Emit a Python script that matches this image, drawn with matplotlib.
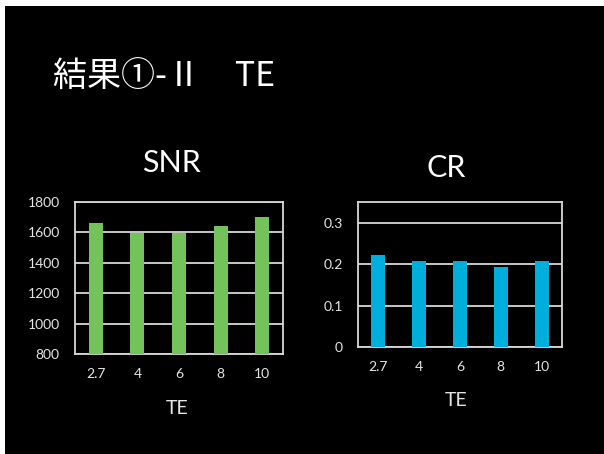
import matplotlib
matplotlib.use("Agg")
import matplotlib.pyplot as plt
from matplotlib.patches import Rectangle

plt.rcParams['font.family'] = ['Lato', 'Noto Sans CJK JP', 'DejaVu Sans']

# Data
te_labels = ["2.7", "4", "6", "8", "10"]
snr_values = [1665, 1597, 1597, 1643, 1700]
cr_values = [0.221, 0.208, 0.208, 0.194, 0.208]
snr_ticks = [800, 1000, 1200, 1400, 1600, 1800]
cr_ticks = [0, 0.1, 0.2, 0.3]
cr_tick_labels = ["0", "0.1", "0.2", "0.3"]

W, H = 604, 454
fig = plt.figure(figsize=(W / 100, H / 100), dpi=100, facecolor="black")

# thin white margin along the top and left edges
fig.patches.append(Rectangle((0, 1 - 6 / H), 1, 6 / H, transform=fig.transFigure,
                             facecolor="white", edgecolor="none", zorder=-1))
fig.patches.append(Rectangle((0, 0), 5 / W, 1, transform=fig.transFigure,
                             facecolor="white", edgecolor="none", zorder=-1))


def px_axes(left, right, top, bottom):
    return fig.add_axes([left / W, 1 - bottom / H, (right - left) / W, (bottom - top) / H])


grid_c = "#d8d8d8"
tick_c = "#e6e6e6"


def style(ax):
    ax.set_facecolor("black")
    for s in ax.spines.values():
        s.set_color(grid_c)
        s.set_linewidth(1.3)
    ax.yaxis.grid(True, color=grid_c, linewidth=1.3)
    ax.set_axisbelow(True)
    ax.tick_params(length=0, colors=tick_c, labelsize=10)
    ax.tick_params(axis="y", pad=11)
    ax.tick_params(axis="x", pad=10)
    ax.set_xlim(-0.5, len(te_labels) - 0.5)


# SNR panel
ax1 = px_axes(75, 283, 202, 354)
x = range(len(te_labels))
ax1.bar(x, snr_values, width=0.34, color="#74C25A", zorder=3)
ax1.set_ylim(800, 1800)
ax1.set_yticks(snr_ticks)
ax1.set_xticks(list(x))
ax1.set_xticklabels(te_labels)
style(ax1)

# CR panel
ax2 = px_axes(358, 562, 202, 347)
ax2.bar(x, cr_values, width=0.34, color="#00AEDB", zorder=3)
ax2.set_ylim(0, 0.35)
ax2.set_yticks(cr_ticks)
ax2.set_yticklabels(cr_tick_labels)
ax2.set_xticks(list(x))
ax2.set_xticklabels(te_labels)
style(ax2)

# Panel titles and axis names
fig.text(171 / W, 1 - 163 / H, "SNR", color="white", fontsize=22, ha="center", va="center")
fig.text(446 / W, 1 - 168 / H, "CR", color="white", fontsize=22, ha="center", va="center")
fig.text(177 / W, 1 - 408 / H, "TE", color="#e6e6e6", fontsize=14, ha="center", va="center")
fig.text(456 / W, 1 - 401 / H, "TE", color="#e6e6e6", fontsize=14, ha="center", va="center")

# Slide heading
fig.text(53 / W, 1 - 76 / H, "結果①-Ⅱ　TE", color="white", fontsize=24.5,
         ha="left", va="center", family=['Noto Sans CJK JP', 'DejaVu Sans'])

fig.savefig("out.png", dpi=100, facecolor="black")
